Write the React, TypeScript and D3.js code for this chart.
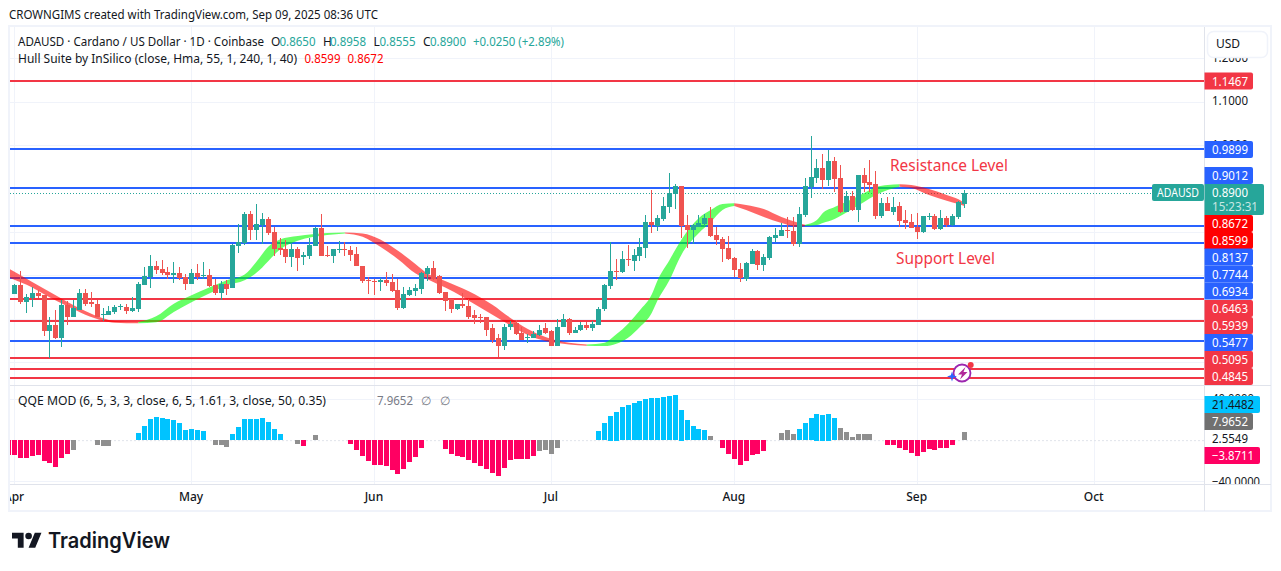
import React, { useEffect, useRef } from 'react';
import * as d3 from 'd3';

// daily candles, index 0 = Apr 1
const opens = [
  .658, .677, .638, .647, .659, .654, .571, .585, .555, .631, .605, .621, .659, .638, .635, .608, .608, .615, .626, .626,
  .617, .622, .677, .696, .721, .714, .707, .700, .705, .696, .679, .705, .698, .700, .677, .659, .679, .670, .767, .774,
  .841, .804, .816, .830, .800, .763, .760, .742, .760, .742, .744, .767, .809, .746, .744, .758, .760, .758, .749, .721,
  .689, .688, .685, .689, .684, .665, .624, .654, .663, .668, .703, .716, .698, .661, .645, .622, .633, .629, .608, .603,
  .603, .578, .555, .538, .580, .589, .566, .555, .555, .562, .578, .571, .538, .580, .599, .568, .573, .585, .578, .585,
  .622, .675, .709, .707, .737, .733, .744, .763, .823, .813, .830, .857, .888, .906, .816, .804, .811, .818, .832, .792,
  .783, .763, .739, .714, .691, .726, .756, .723, .739, .786, .790, .804, .802, .772, .839, .904, .924, .947, .920, .964,
  .924, .846, .883, .850, .931, .915, .911, .837, .867, .846, .860, .827, .823, .811, .800, .834, .837, .807, .832, .816,
  .834, .8650,
];
const highs = [
  .679, .709, .656, .672, .665, .655, .605, .619, .644, .641, .644, .668, .668, .661, .644, .624, .629, .631, .635, .633,
  .649, .684, .718, .746, .733, .735, .718, .730, .718, .703, .714, .726, .730, .714, .691, .686, .689, .773, .818, .846,
  .848, .864, .843, .834, .811, .786, .781, .774, .766, .753, .786, .812, .841, .767, .760, .779, .776, .767, .765, .721,
  .696, .692, .693, .707, .703, .691, .672, .672, .679, .707, .721, .733, .700, .661, .645, .635, .659, .645, .619, .610,
  .605, .587, .564, .587, .594, .596, .580, .564, .571, .585, .589, .573, .599, .610, .601, .582, .592, .592, .594, .626,
  .679, .776, .737, .756, .770, .760, .786, .839, .897, .839, .880, .936, .911, .906, .839, .818, .839, .841, .857, .811,
  .788, .790, .742, .728, .730, .760, .758, .749, .790, .809, .820, .834, .834, .857, .924, 1.021, .968, .980, .989, .973,
  .954, .894, .894, .931, .947, .966, .941, .878, .880, .880, .869, .850, .841, .843, .837, .843, .841, .850, .837, .841,
  .871, .8958,
];
const lows = [
  .656, .633, .613, .626, .647, .560, .510, .553, .535, .585, .605, .619, .630, .626, .603, .594, .608, .610, .619, .610,
  .615, .615, .677, .670, .703, .700, .691, .682, .689, .665, .679, .689, .691, .672, .654, .644, .654, .670, .751, .769,
  .781, .781, .773, .793, .744, .746, .728, .719, .709, .723, .737, .767, .744, .742, .728, .751, .744, .733, .721, .682,
  .656, .654, .663, .675, .661, .619, .622, .652, .652, .656, .686, .689, .656, .617, .612, .619, .624, .599, .587, .589,
  .559, .543, .511, .527, .575, .562, .550, .543, .555, .559, .564, .536, .538, .580, .562, .568, .571, .573, .571, .585,
  .617, .668, .689, .705, .721, .709, .733, .739, .797, .802, .825, .843, .853, .786, .763, .772, .811, .813, .788, .770,
  .730, .735, .696, .684, .686, .726, .712, .709, .735, .776, .790, .786, .767, .765, .834, .878, .913, .899, .906, .892,
  .843, .846, .848, .823, .892, .892, .830, .832, .848, .839, .811, .807, .809, .783, .797, .827, .804, .804, .811, .813,
  .830, .8555,
];
const closes = [
  .677, .639, .649, .659, .652, .571, .585, .555, .631, .605, .624, .659, .635, .633, .605, .610, .617, .626, .629, .617,
  .624, .679, .698, .721, .712, .705, .700, .705, .693, .679, .705, .696, .700, .675, .659, .679, .668, .769, .776, .841,
  .804, .818, .830, .797, .760, .758, .742, .760, .739, .746, .769, .809, .744, .744, .760, .760, .758, .746, .721, .686,
  .686, .686, .689, .682, .663, .624, .656, .665, .670, .705, .716, .691, .659, .641, .622, .633, .629, .605, .601, .601,
  .575, .552, .538, .582, .587, .564, .552, .557, .564, .575, .568, .538, .582, .599, .568, .575, .585, .578, .587, .622,
  .677, .709, .707, .737, .735, .746, .765, .823, .816, .832, .860, .890, .906, .813, .804, .816, .820, .832, .790, .781,
  .760, .737, .712, .693, .728, .756, .723, .742, .788, .792, .804, .802, .772, .841, .906, .927, .947, .920, .964, .922,
  .846, .883, .850, .931, .913, .908, .837, .867, .848, .857, .825, .820, .809, .800, .837, .837, .807, .832, .816, .837,
  .869, .8900,
];

// Hull Suite band, read every few days
const hullDays = [
  -1, 3, 6, 9, 12, 15, 17, 21, 24, 27, 30, 33, 36, 39, 41, 43, 45, 48, 53, 56, 59, 62, 65, 68, 70, 73, 76, 78, 81, 84, 87,
  90, 94, 97, 100, 102, 104, 106, 108, 109, 111, 113, 116, 118, 120, 122, 124, 127, 130, 133, 134, 136, 137, 139, 142, 144,
  146, 148, 150, 152, 155, 158, 160, 161,
];
const hullUpper = [
  .7156, .6848, .6617, .6386, .6178, .6008, .5947, .5924, .6055, .6347, .6540, .6717, .6886, .7017, .7310, .7657, .7826,
  .7903, .7972, .7988, .7965, .7826, .7564, .7256, .7041, .6871, .6694, .6563, .6324, .6024, .5762, .5577, .5446, .5408,
  .5446, .5639, .5885, .6193, .6555, .6886, .7349, .7811, .8319, .8504, .8643, .8659, .8619, .8527, .8342, .8204, .8164,
  .8273, .8435, .8573, .8758, .8897, .9035, .9082, .9098, .9082, .8989, .8850, .8751, .8672,
];
const hullLower = [
  .6948, .6717, .6486, .6286, .6093, .5955, .5908, .5893, .5916, .6155, .6378, .6578, .6771, .6886, .7056, .7326, .7595,
  .7795, .7926, .7965, .7888, .7657, .7372, .7041, .6910, .6717, .6501, .6332, .6093, .5847, .5623, .5485, .5408, .5377,
  .5369, .5423, .5562, .5808, .6132, .6424, .6886, .7464, .7972, .8227, .8504, .8596, .8504, .8342, .8204, .8111, .8134,
  .8157, .8204, .8296, .8527, .8689, .8850, .8966, .9042, .9012, .8850, .8719, .8643, .8599,
];
const hullTurns = [-1, 21, 56, 97, 122, 134, 150, 161];

// QQE MOD histogram
const qqeDays = [
  -1, 0, 1, 2, 3, 4, 5, 6, 7, 8, 9, 10, 14, 15, 16, 21, 22, 23, 24, 25, 26, 27, 28, 29, 30, 31, 32, 34, 35, 36, 37, 38, 39,
  40, 41, 42, 43, 44, 45, 48, 49, 51, 57, 58, 59, 60, 61, 62, 63, 64, 65, 66, 67, 68, 69, 73, 74, 75, 76, 77, 78, 79, 80,
  81, 82, 83, 84, 85, 86, 87, 88, 89, 90, 91, 92, 99, 100, 101, 102, 103, 104, 105, 106, 107, 108, 109, 110, 111, 112, 113,
  114, 115, 116, 117, 118, 120, 121, 122, 123, 124, 125, 126, 127, 130, 131, 132, 133, 134, 135, 136, 137, 138, 139, 140,
  141, 142, 143, 144, 145, 148, 149, 150, 151, 152, 153, 154, 155, 156, 157, 158, 159, 161,
];
const qqeValues = [
  -15, -15, -18, -18, -16, -15, -21, -23, -26, -18, -14, -10, -5, -6, -6, 7, 14, 21, 23, 22, 21, 20, 17, 10, 11, 10, 9, -5,
  -5, -7, 6, 13, 21, 21, 21, 22, 18, 11, 6, -4, -6, 5, -4, -10, -16, -21, -24, -24, -25, -29, -33, -28, -22, -17, -8, -9,
  -14, -16, -17, -20, -23, -25, -28, -32, -35, -27, -20, -19, -19, -19, -16, -11, -10, -14, -8, 9, 17, 24, 28, 32, 34, 36,
  38, 40, 41, 41, 42, 43, 44, 30, 20, 14, 11, 10, 4, -8, -14, -19, -24, -21, -15, -14, -11, 7, 10, 6, 11, 17, 22, 26, 25,
  26, 22, 12, 8, 3, 6, 6, 6, -5, -5, -8, -10, -13, -16, -12, -9, -10, -8, -8, -5, 7.97,
];
const qqeGreyDays = [10, 14, 15, 16, 34, 35, 36, 48, 51, 89, 90, 91, 92, 118, 130, 131, 132, 140, 141, 142, 143, 144, 145, 161];

const bluePrices = [0.9899, 0.9012, 0.8137, 0.7744, 0.6934, 0.5477];
const redPrices = [1.1467, 0.6463, 0.5939, 0.5095, 0.4845, 0.4645];
const priceTicks = [1.2, 1.1, 1.0, 0.9, 0.8, 0.7, 0.6, 0.5];
const axisTicks = ['1.2000', '1.1000', '1.0000'];
const monthDays = [0, 30, 61, 91, 122, 153, 183];
const monthNames = ['Apr', 'May', 'Jun', 'Jul', 'Aug', 'Sep', 'Oct'];

const lastPrice = 0.89;
const BLUE = '#2962ff';
const RED = '#f23645';
const TEAL = '#26a69a';
const INK = '#131722';
const FONT = '"Noto Sans", sans-serif';

const Chart = () => {
  const ref = useRef<SVGSVGElement>(null);

  useEffect(() => {
    drawChart();
  }, []);

  const drawChart = () => {
    const width = 1281;
    const height = 571;
    const left = 10;
    const right = 1204;
    const paneTop = 27;
    const paneBottom = 385;
    const subBottom = 484;

    const svg = d3.select(ref.current);
    svg.selectAll('*').remove();
    svg.attr('viewBox', `0 0 ${width} ${height}`);

    const xScale = d3.scaleLinear().domain([0, 30]).range([14.5, 191.5]);
    const yScale = d3.scaleLinear().domain([1.1467, 0.5477]).range([81.4, 341.4]);
    const qqeScale = d3.scaleLinear().domain([40, -40]).range([399.3, 481]);
    const px = (d: number) => Math.floor(xScale(d));

    const defs = svg.append('defs');
    defs.append('clipPath').attr('id', 'main').append('rect')
      .attr('x', left).attr('y', paneTop).attr('width', right - left).attr('height', paneBottom - paneTop);
    defs.append('clipPath').attr('id', 'sub').append('rect')
      .attr('x', left).attr('y', paneBottom).attr('width', right - left).attr('height', subBottom - paneBottom);
    defs.append('clipPath').attr('id', 'time').append('rect')
      .attr('x', left).attr('y', subBottom).attr('width', right - left).attr('height', 27);
    defs.append('clipPath').attr('id', 'axis').append('rect')
      .attr('x', right).attr('y', paneTop).attr('width', 67).attr('height', subBottom - paneTop);

    const text = (g: any, x: number, y: number, s: string, fill = INK, size = 12, len?: number) => {
      const t = g.append('text')
        .attr('x', x).attr('y', y).attr('fill', fill)
        .attr('font-size', size).attr('font-family', FONT)
        .text(s);
      if (len) t.attr('textLength', len).attr('lengthAdjust', 'spacingAndGlyphs');
      return t;
    };

    svg.append('rect').attr('width', width).attr('height', height).attr('fill', '#fff');

    // grid
    const grid = svg.append('g').attr('shape-rendering', 'crispEdges').attr('stroke', '#f0f3fa');
    grid.selectAll('.v').data(monthDays).join('line')
      .attr('x1', d => px(d) + 0.5).attr('x2', d => px(d) + 0.5)
      .attr('y1', paneTop).attr('y2', subBottom);
    grid.selectAll('.h').data(priceTicks).join('line')
      .attr('x1', left).attr('x2', right)
      .attr('y1', d => Math.round(yScale(d)) + 0.5).attr('y2', d => Math.round(yScale(d)) + 0.5);
    grid.selectAll('.q').data([40, -40]).join('line')
      .attr('x1', left).attr('x2', right)
      .attr('y1', d => Math.round(qqeScale(d)) + 0.5).attr('y2', d => Math.round(qqeScale(d)) + 0.5);

    // main pane
    const main = svg.append('g').attr('clip-path', 'url(#main)');
    const levels = main.append('g').attr('shape-rendering', 'crispEdges').attr('stroke-width', 2);
    levels.selectAll('.b').data(bluePrices).join('line')
      .attr('x1', left).attr('x2', right)
      .attr('y1', d => Math.round(yScale(d))).attr('y2', d => Math.round(yScale(d)))
      .attr('stroke', BLUE);
    levels.selectAll('.r').data(redPrices).join('line')
      .attr('x1', left).attr('x2', right)
      .attr('y1', d => Math.round(yScale(d))).attr('y2', d => Math.round(yScale(d)))
      .attr('stroke', RED);

    main.append('line')
      .attr('x1', left).attr('x2', right)
      .attr('y1', Math.round(yScale(lastPrice)) + 0.5).attr('y2', Math.round(yScale(lastPrice)) + 0.5)
      .attr('stroke', TEAL).attr('stroke-dasharray', '1 2');

    // hull band, one piece per direction
    const hull = hullDays.map((d, i) => ({ d, hi: hullUpper[i], lo: hullLower[i] }));
    const band = d3.area<any>()
      .x(p => xScale(p.d))
      .y0(p => yScale(p.lo))
      .y1(p => yScale(p.hi))
      .curve(d3.curveMonotoneX);
    d3.pairs(hullTurns).forEach(([a, b], i) => {
      main.append('path')
        .attr('d', band(hull.filter(p => p.d >= a && p.d <= b)))
        .attr('fill', i % 2 === 0 ? '#ff0000' : '#00ff00')
        .attr('fill-opacity', 0.6);
    });

    // candles
    const candles = opens.map((o, i) => ({ i, o, h: highs[i], l: lows[i], c: closes[i] }));
    const candle = main.append('g').attr('shape-rendering', 'crispEdges')
      .selectAll('g').data(candles).join('g')
      .attr('fill', d => (d.c >= d.o ? TEAL : '#ef5350'));
    candle.append('rect')
      .attr('x', d => px(d.i))
      .attr('width', 1)
      .attr('y', d => Math.round(yScale(d.h)))
      .attr('height', d => Math.max(1, Math.round(yScale(d.l)) - Math.round(yScale(d.h))));
    candle.append('rect')
      .attr('x', d => px(d.i) - 2)
      .attr('width', 5)
      .attr('y', d => Math.round(yScale(Math.max(d.o, d.c))))
      .attr('height', d => Math.max(1, Math.round(yScale(Math.min(d.o, d.c))) - Math.round(yScale(Math.max(d.o, d.c)))));

    text(main, 890, 171, 'Resistance Level', RED, 16, 118);
    text(main, 896, 264, 'Support Level', RED, 16, 99);

    // spark badge on the bottom lines
    const badge = main.append('g').attr('transform', 'translate(962,373)');
    badge.append('circle').attr('r', 8.5).attr('fill', '#fff').attr('stroke', '#9c27b0').attr('stroke-width', 1.8);
    badge.append('path').attr('d', 'M3.5-6-4 1.5H0L-2 6.5 5.5-1H1.5Z').attr('fill', '#b0289a');
    badge.append('circle').attr('cx', 8.7).attr('cy', -8).attr('r', 3).attr('fill', RED);
    badge.append('path').attr('d', 'M0-5 1.2-1.2 5 0 1.2 1.2 0 5-1.2 1.2-5 0-1.2-1.2Z').attr('fill', BLUE)
      .attr('transform', 'translate(-10,3.5)');

    // legend
    const legend = svg.append('g');
    text(legend, 9, 19, 'CROWNGIMS created with TradingView.com, Sep 09, 2025 08:36 UTC', INK, 12, 369);
    text(legend, 18, 46, 'ADAUSD · Cardano / US Dollar · 1D · Coinbase', INK, 12, 246);
    [['O', 271, '0.8650', 279.5], ['H', 323, '0.8958', 330], ['L', 373.5, '0.8555', 379.5], ['C', 423, '0.8900', 430]].forEach(r => {
      text(legend, r[1] as number, 46, r[0] as string);
      text(legend, r[3] as number, 46, r[2] as string, TEAL, 12, 36);
    });
    text(legend, 473, 46, '+0.0250 (+2.89%)', TEAL, 12, 91);
    text(legend, 18, 63, 'Hull Suite by InSilico (close, Hma, 55, 1, 240, 1, 40)', INK, 12, 279);
    text(legend, 304.5, 63, '0.8599', '#ff0000', 12, 36);
    text(legend, 347.5, 63, '0.8672', '#ff0000', 12, 36);
    text(legend, 18, 405, 'QQE MOD (6, 5, 3, 3, close, 6, 5, 1.61, 3, close, 50, 0.35)', INK, 12, 308);
    text(legend, 377, 405, '7.9652', '#787b86', 12, 36);
    text(legend, 421, 405, '∅', '#787b86');
    text(legend, 440, 405, '∅', '#787b86');

    // QQE pane
    const sub = svg.append('g').attr('clip-path', 'url(#sub)');
    sub.append('line')
      .attr('x1', left).attr('x2', right)
      .attr('y1', qqeScale(0) + 0.5).attr('y2', qqeScale(0) + 0.5)
      .attr('stroke', '#e0e3eb').attr('stroke-dasharray', '2 2');
    const qqe = qqeDays.map((d, i) => ({ d, v: qqeValues[i] }));
    sub.append('g').attr('shape-rendering', 'crispEdges')
      .selectAll('rect').data(qqe).join('rect')
      .attr('x', d => px(d.d) - 2)
      .attr('width', 5)
      .attr('y', d => Math.round(qqeScale(Math.max(d.v, 0))))
      .attr('height', d => Math.round(Math.abs(qqeScale(d.v) - qqeScale(0))))
      .attr('fill', d => (qqeGreyDays.includes(d.d) ? '#8f8f8f' : d.v > 0 ? '#00c3ff' : '#ff0062'));

    // time axis
    const time = svg.append('g').attr('clip-path', 'url(#time)');
    monthNames.forEach((m, i) => {
      text(time, xScale(monthDays[i]) - 0.5, 501, m, INK, 12).attr('text-anchor', 'middle').attr('font-weight', 500);
    });

    // borders
    const frame = svg.append('g').attr('shape-rendering', 'crispEdges').attr('fill', 'none');
    frame.append('rect').attr('x', left - 1).attr('y', paneTop - 1).attr('width', 1262).attr('height', 485)
      .attr('stroke', '#f0f3fa').attr('stroke-width', 2);
    frame.append('line').attr('x1', left).attr('x2', 1271).attr('y1', paneBottom + 0.5).attr('y2', paneBottom + 0.5).attr('stroke', '#e0e3eb');
    frame.append('line').attr('x1', left).attr('x2', 1271).attr('y1', subBottom + 0.5).attr('y2', subBottom + 0.5).attr('stroke', '#e0e3eb');
    frame.append('line').attr('x1', right + 0.5).attr('x2', right + 0.5).attr('y1', paneTop).attr('y2', 511).attr('stroke', '#e0e3eb');

    // right axis
    const axis = svg.append('g').attr('clip-path', 'url(#axis)');
    axisTicks.forEach((t, i) => {
      text(axis, 1212, yScale(priceTicks[i]) + 3.5, t, INK, 12, 36);
    });
    text(axis, 1212, qqeScale(40) + 3.5, '40.0000', INK, 12, 42);
    text(axis, 1212, qqeScale(2.5549) + 5.5, '2.5549', INK, 12, 36);
    text(axis, 1212, qqeScale(-40) + 4.5, '−40.0000', INK, 12, 48);

    axis.append('rect').attr('x', 1205).attr('y', paneTop + 1).attr('width', 65).attr('height', 30).attr('fill', '#fff');
    svg.append('rect').attr('x', 1207.5).attr('y', 31.5).attr('width', 60).attr('height', 26).attr('rx', 6)
      .attr('fill', '#fff').attr('stroke', '#f0f3fa').attr('stroke-width', 1.5);
    text(svg, 1216, 48, 'USD');

    const tag = (top: number, w: number, fill: string, s: string, color = '#fff', h = 17) => {
      svg.append('path')
        .attr('d', `M1204.5 ${top}h${w - 2.5}a2 2 0 0 1 2 2v${h - 4}a2 2 0 0 1 -2 2h${2.5 - w}Z`)
        .attr('fill', fill);
      text(svg, 1212, top + 13, s, color, 12, s.length > 6 ? 42 : 36);
    };
    tag(72.5, 49, RED, '1.1467');
    tag(141, 49, BLUE, '0.9899');
    tag(167, 49, BLUE, '0.9012');
    tag(215, 49, '#ff0000', '0.8672');
    tag(232, 49, '#ff0000', '0.8599');
    tag(248.5, 49, BLUE, '0.8137');
    tag(265.5, 49, BLUE, '0.7744');
    tag(282.5, 49, BLUE, '0.6934');
    tag(300, 49, RED, '0.6463');
    tag(317, 49, RED, '0.5939');
    tag(334, 49, BLUE, '0.5477');
    tag(351, 49, RED, '0.5095');
    tag(368, 49, RED, '0.4845');
    tag(396, 56, '#00c3ff', '21.4482', INK);
    tag(413, 49, '#707070', '7.9652');
    tag(447, 56, '#ff0062', '−3.8711');

    // last price tag
    svg.append('path').attr('d', 'M1204.5 184h57.5a2 2 0 0 1 2 2v27a2 2 0 0 1 -2 2h-57.5Z').attr('fill', TEAL);
    text(svg, 1212, 197, '0.8900', '#fff', 12, 36);
    text(svg, 1212, 211, '15:23:31', 'rgba(255,255,255,0.75)', 12, 46);
    svg.append('rect').attr('x', 1152).attr('y', 184).attr('width', 52).attr('height', 17).attr('rx', 2).attr('fill', TEAL);
    text(svg, 1157, 197, 'ADAUSD', '#fff', 12, 42);

    // logo
    const logo = svg.append('g').attr('transform', 'translate(12,529.4) scale(0.83)').attr('fill', '#131722');
    logo.append('path').attr('d', 'M14 22H7V11H0V4h14v18zM28 22h-8l7.5-18h8L28 22z');
    logo.append('circle').attr('cx', 20).attr('cy', 8).attr('r', 4);
    text(svg, 48, 548, 'TradingView', '#131722', 21, 122).attr('font-family', 'Inter, sans-serif').attr('font-weight', 600);
  };

  return <svg ref={ref} width={1281} height={571} style={{ position: 'fixed', left: 0, top: 0 }} />;
};

export default function App() {
  return <Chart />;
}
